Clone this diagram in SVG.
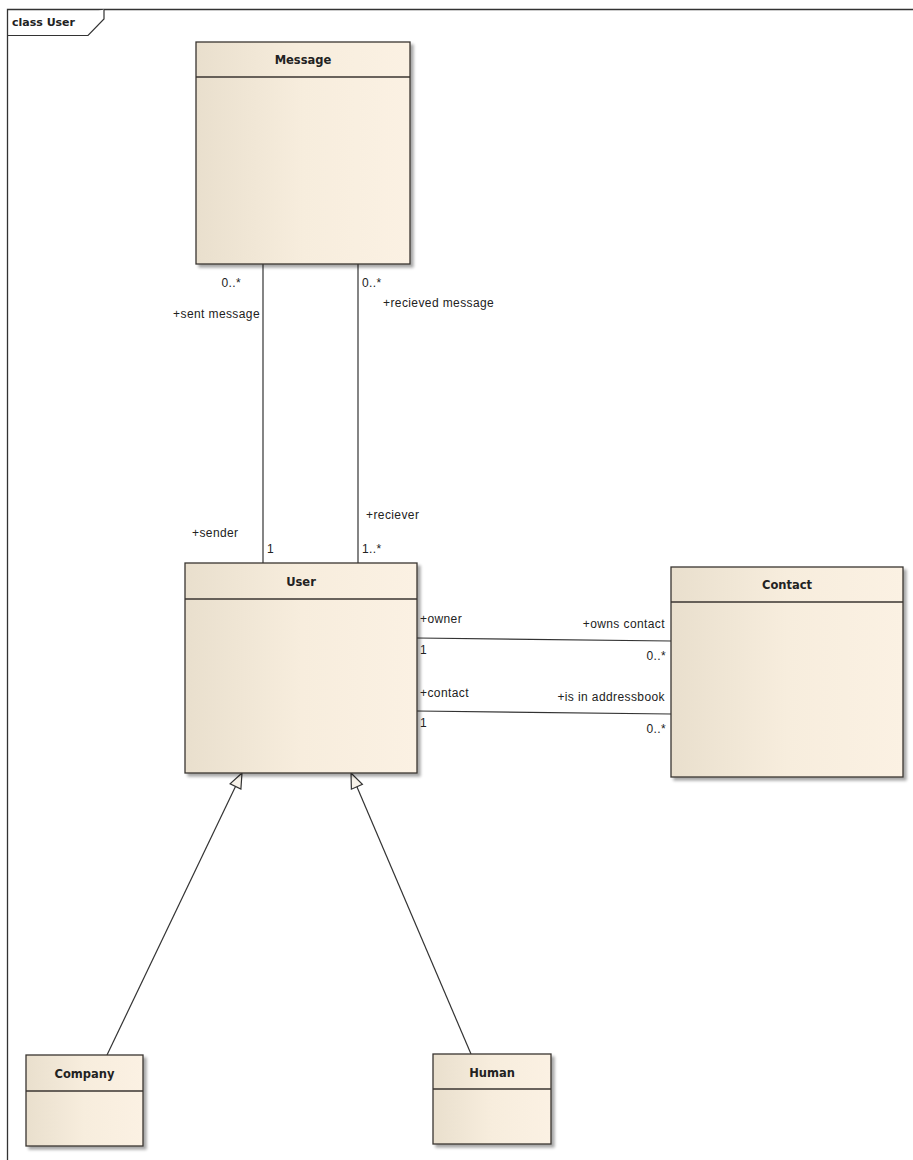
<svg xmlns="http://www.w3.org/2000/svg" width="913" height="1160" viewBox="0 0 913 1160">
<defs>
<linearGradient id="g" x1="0" y1="0" x2="1" y2="0">
<stop offset="0" stop-color="#e9dfcd"/>
<stop offset="0.5" stop-color="#f7eddd"/>
<stop offset="1" stop-color="#fbf1e3"/>
</linearGradient>
<filter id="sh" x="-10%" y="-10%" width="130%" height="130%">
<feGaussianBlur in="SourceAlpha" stdDeviation="1.5"/>
<feOffset dx="3" dy="3"/>
<feComponentTransfer><feFuncA type="linear" slope="0.35"/></feComponentTransfer>
<feMerge><feMergeNode/><feMergeNode in="SourceGraphic"/></feMerge>
</filter>
</defs>
<style>
.box{fill:url(#g);stroke:#3a3530;stroke-width:1.3;filter:url(#sh)}
.div{stroke:#3a3530;stroke-width:1.3}
.name{font-family:"DejaVu Sans",sans-serif;font-size:11.5px;font-weight:bold;fill:#222;text-anchor:middle}
.lbl{font-family:"Liberation Sans",Arial,sans-serif;font-size:12px;letter-spacing:0.4px;fill:#222}
.r{text-anchor:end}
.ln{stroke:#333;stroke-width:1.2;fill:none}
.tri{fill:#f8f3ea;stroke:#333;stroke-width:1.2}
</style>
<rect width="913" height="1160" fill="#fff"/>
<g id="frame">
<path d="M7.5,1160 V9.5 H913" fill="none" stroke="#333" stroke-width="1.3"/>
<path d="M7.5,35.5 H88 L104,19 V9.5" fill="#fff" stroke="#333" stroke-width="1.2"/>
<text x="12" y="26" font-family="DejaVu Sans,sans-serif" font-size="11" font-weight="bold" fill="#222">class User</text>
</g>
<g id="connectors">
<line class="ln" x1="263" y1="264" x2="263" y2="563"/>
<line class="ln" x1="358" y1="264" x2="358" y2="563"/>
<line class="ln" x1="417" y1="638" x2="671" y2="641"/>
<line class="ln" x1="417" y1="711" x2="671" y2="714"/>
<line class="ln" x1="235.5" y1="786.5" x2="107" y2="1055"/>
<polygon class="tri" points="242,773 240.9,789.1 230.1,783.9"/>
<line class="ln" x1="356.9" y1="786.8" x2="471" y2="1054"/>
<polygon class="tri" points="351,773 362.4,784.4 351.4,789.2"/>
<text class="lbl r" x="241" y="287">0..*</text>
<text class="lbl r" x="260" y="318">+sent message</text>
<text class="lbl" x="362" y="287">0..*</text>
<text class="lbl" x="383" y="307">+recieved message</text>
<text class="lbl" x="192" y="537">+sender</text>
<text class="lbl" x="267" y="553">1</text>
<text class="lbl" x="366" y="519">+reciever</text>
<text class="lbl" x="362" y="553">1..*</text>
<text class="lbl" x="420" y="623">+owner</text>
<text class="lbl r" x="665" y="628">+owns contact</text>
<text class="lbl" x="420" y="654">1</text>
<text class="lbl r" x="666" y="660">0..*</text>
<text class="lbl" x="420" y="697">+contact</text>
<text class="lbl r" x="665" y="701">+is in addressbook</text>
<text class="lbl" x="420" y="727">1</text>
<text class="lbl r" x="666" y="733">0..*</text>
</g>
<g id="Message">
<rect class="box" x="196" y="42" width="214" height="222"/>
<line class="div" x1="196" y1="77" x2="410" y2="77"/>
<text class="name" x="303" y="64">Message</text>
</g>
<g id="User">
<rect class="box" x="185" y="563" width="232" height="210"/>
<line class="div" x1="185" y1="599" x2="417" y2="599"/>
<text class="name" x="301" y="586">User</text>
</g>
<g id="Contact">
<rect class="box" x="671" y="567" width="232" height="210"/>
<line class="div" x1="671" y1="602" x2="903" y2="602"/>
<text class="name" x="787" y="589">Contact</text>
</g>
<g id="Company">
<rect class="box" x="26" y="1055" width="117" height="91"/>
<line class="div" x1="26" y1="1091" x2="143" y2="1091"/>
<text class="name" x="84.5" y="1078">Company</text>
</g>
<g id="Human">
<rect class="box" x="433" y="1054" width="118" height="90"/>
<line class="div" x1="433" y1="1089" x2="551" y2="1089"/>
<text class="name" x="492" y="1077">Human</text>
</g>
</svg>
